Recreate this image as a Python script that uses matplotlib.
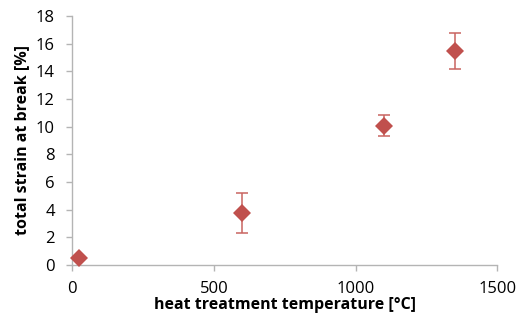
import numpy as np
import matplotlib.pyplot as plt

# heat treatment temperature [°C] vs total strain at break [%]
temperature = [25, 600, 1100, 1350]
strain = [0.5, 3.78, 10.08, 15.45]
strain_err = [0.0, 1.45, 0.75, 1.3]

x_ticks = [0, 500, 1000, 1500]
y_ticks = [0, 2, 4, 6, 8, 10, 12, 14, 16, 18]

plt.rcParams['font.family'] = ['Open Sans', 'DejaVu Sans']

fig = plt.figure(figsize=(5.19, 3.2), dpi=100)
ax = fig.add_axes([0.139, 0.172, 0.819, 0.778])

color = '#C0504D'
ax.errorbar(temperature, strain, yerr=strain_err, fmt='none',
            ecolor='#C96461', elinewidth=1.1, capsize=4.3, capthick=1.1)
# markers drawn unclipped so the first point can overlap the x axis
ax.plot(temperature, strain, linestyle='none', marker='D', markersize=9.2,
        color=color, markeredgewidth=0, clip_on=False, zorder=5)

ax.set_xlim(0, 1500)
ax.set_ylim(0, 18)
ax.set_xticks(x_ticks)
ax.set_yticks(y_ticks)

for side in ['top', 'right']:
    ax.spines[side].set_visible(False)
for side in ['left', 'bottom']:
    ax.spines[side].set_color('#B4B4B4')
    ax.spines[side].set_linewidth(1.0)
ax.tick_params(axis='both', direction='out', length=4.5, width=1.0,
               color='#B4B4B4', labelsize=12, labelcolor='black')
ax.tick_params(axis='x', pad=7)
ax.tick_params(axis='y', pad=8)

ax.set_xlabel('heat treatment temperature [°C]', fontsize=11.5,
              fontweight='bold', labelpad=0)
ax.set_ylabel('total strain at break [%]', fontsize=11.5,
              fontweight='bold', labelpad=4)

plt.savefig('out.png', dpi=100)
